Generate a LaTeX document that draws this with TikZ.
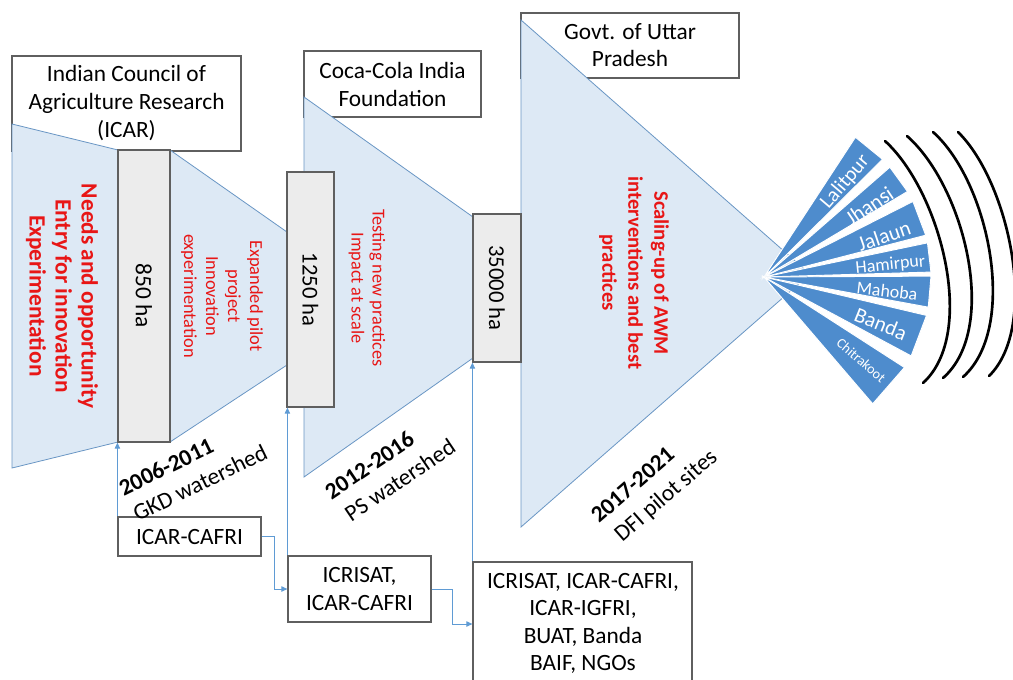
\documentclass[tikz,border=0pt]{standalone}
\usepackage{fontspec}
\setmainfont{Carlito}
\usetikzlibrary{arrows.meta,fit}
\definecolor{funfill}{RGB}{221,233,245}
\definecolor{funline}{RGB}{105,150,196}
\definecolor{boxgray}{RGB}{236,236,236}
\definecolor{boxline}{RGB}{95,95,95}
\definecolor{redc}{RGB}{232,22,22}
\definecolor{arrc}{RGB}{95,155,212}
\definecolor{fanc}{RGB}{78,140,205}
\begin{document}
\begin{tikzpicture}[x=0.75pt,y=-0.75pt,
  funnel/.style={fill=funfill, draw=funline, line width=0.6pt},
  gbox/.style={fill=boxgray, draw=boxline, line width=0.9pt, inner sep=0pt},
  wbox/.style={fill=white, draw=boxline, line width=0.9pt, inner sep=0pt},
  txt/.style={align=center, inner sep=0pt, font=\fontsize{17.5}{21}\selectfont},
  datelbl/.style={align=left, inner sep=0pt, font=\fontsize{17.5}{22}\selectfont},
  redb/.style={text=redc, align=center, inner sep=0pt, rotate=-90},
  arr/.style={draw=arrc, line width=0.7pt, -{Triangle[length=4.5pt,width=4pt]}},
  fan/.style={fill=fanc, draw=white, line width=0.7pt},
  fanlbl/.style={text=white, inner sep=0pt},
  wave/.style={line width=2pt, line cap=round}]
\useasboundingbox (0,0) rectangle (1013,679);
\clip (0,0) rectangle (1013,679);

% top partner boxes
\node[wbox, fit={(12,56) (241,151)}] (icar) {};
\node[wbox, fit={(304,51) (481,117)}] (coca) {};
\node[wbox, fit={(521,13) (739,78)}] (govt) {};

% funnels
\path[funnel] (12,124) -- (118,150) -- (118,442) -- (12,468) -- cycle;
\path[funnel] (170,150) -- (287,232) -- (287,365) -- (170,442) -- cycle;
\path[funnel] (304,97) -- (473,217) -- (473,358) -- (304,477) -- cycle;
\path[funnel] (521,20) -- (810,274) -- (521,527) -- cycle;

% fan of districts
\coordinate (apex) at (764,277);
\begin{scope}[shift={(apex)}]
\foreach \a/\b in {44.8/56.8, 30.8/41.1, 14.5/26.9, 1.7/11.8, -10.4/0.3, -28.2/-13.3, -49.4/-32.8}
  \path[fan] (0,0) -- ({0-(\a)}:167) -- ({0-(\b)}:167) -- cycle;
\foreach \m/\r/\t/\s in {49.5/125/Lalitpur/15.5, 34/127/Jhansi/16, 18.9/127/Jalaun/16, 5.4/127/Hamirpur/13.5, -6.5/124/Mahoba/13.5, -21.9/126/Banda/16, -40.6/128/Chitrakoot/10.5}
  \node[fanlbl, font=\fontsize{\s}{\s}\selectfont, rotate=\m] (l\t) at ({0-(\m)}:\r) {\t};
\end{scope}

% area boxes
\node[gbox, fit={(118,150) (170,442)}] (b850) {};
\node[gbox, fit={(287,172) (334,407)}] (b1250) {};
\node[gbox, fit={(473,214) (521,362)}] (b35000) {};
\node[txt, font=\fontsize{17.5}{21}\selectfont, rotate=-90] (t850) at (b850) {850 ha};
\node[txt, font=\fontsize{17}{21}\selectfont, rotate=-90] (t1250) at (b1250) {1250 ha};
\node[txt, font=\fontsize{17}{21}\selectfont, rotate=-90] (t35000) at (b35000) {35000 ha};

% partner boxes at bottom
\node[wbox, fit={(118,517) (261,556)}] (cafri) {};
\node[wbox, fit={(288,556) (431,622)}] (icri) {};
\node[wbox, fit={(473,562) (692,686)}] (bot) {};

% arrows
\draw[arr] (cafri.north west) -- (b850.south west);
\draw[arr] (cafri.east) -- ++(13,0) |- (icri.west);
\draw[arr] (icri.north west) -- (icri.north west |- b1250.south);
\draw[arr] (icri.east) -- ++(21,0) |- (bot.west);
\draw[arr] (bot.north west) -- (bot.north west |- b35000.south);

% box texts
\node[txt] (ticar) at (126.5,103.5) {Indian Council of\\Agriculture Research\\(ICAR)};
\node[txt] (tcoca) at (392.5,84) {Coca-Cola India\\Foundation};
\node[txt, font=\fontsize{17.5}{20}\selectfont] (tgovt) at (630,45) {Govt. of Uttar\\Pradesh};
\node[txt] (tcafri) at (cafri) {ICAR-CAFRI};
\node[txt] (ticri) at (icri) {ICRISAT,\\ICAR-CAFRI};
\node[txt, font=\fontsize{17.5}{20.6}\selectfont] (tbot) at (583,623.5) {ICRISAT, ICAR-CAFRI,\\ICAR-IGFRI,\\BUAT, Banda\\BAIF, NGOs};

% red stage texts
\node[redb, font=\bfseries\fontsize{17.5}{19.5}\selectfont] (needs) at (62,296) {Needs and opportunity\\Entry for innovation\\Experimentation};
\node[redb, font=\fontsize{13.8}{16.5}\selectfont] (expand) at (222,296) {Expanded pilot\\project\\Innovation\\experimentation};
\node[redb, font=\fontsize{13.7}{15.75}\selectfont] (testing) at (367,288) {Testing new practices\\Impact at scale};
\node[redb, font=\bfseries\fontsize{15.5}{19.5}\selectfont] (scaling) at (634,273) {Scaling-up of AWM\\interventions and best\\practices};

% period labels
\node[datelbl, rotate=26] (p1) at (193,470) {\textbf{2006-2011}\\\hspace*{1pt}GKD watershed};
\node[datelbl, rotate=34] (p2) at (390,469) {\textbf{2012-2016}\\\hspace*{3pt}PS watershed};
\node[datelbl, rotate=41] (p3) at (654,488) {\hspace*{2pt}\textbf{2017-2021}\\\hspace*{6pt}DFI pilot sites};

% waves
\foreach \xa/\ya/\xb/\yb/\d in {885/141/923/383/55, 907/136/943/378/57, 933/132/963/377/56, 958/132/989/376/51}
  \draw[wave] (\xa,\ya) .. controls ({\xa+\d},{\ya+50}) and ({\xb+\d},{\yb-50}) .. (\xb,\yb);
\end{tikzpicture}
\end{document}
